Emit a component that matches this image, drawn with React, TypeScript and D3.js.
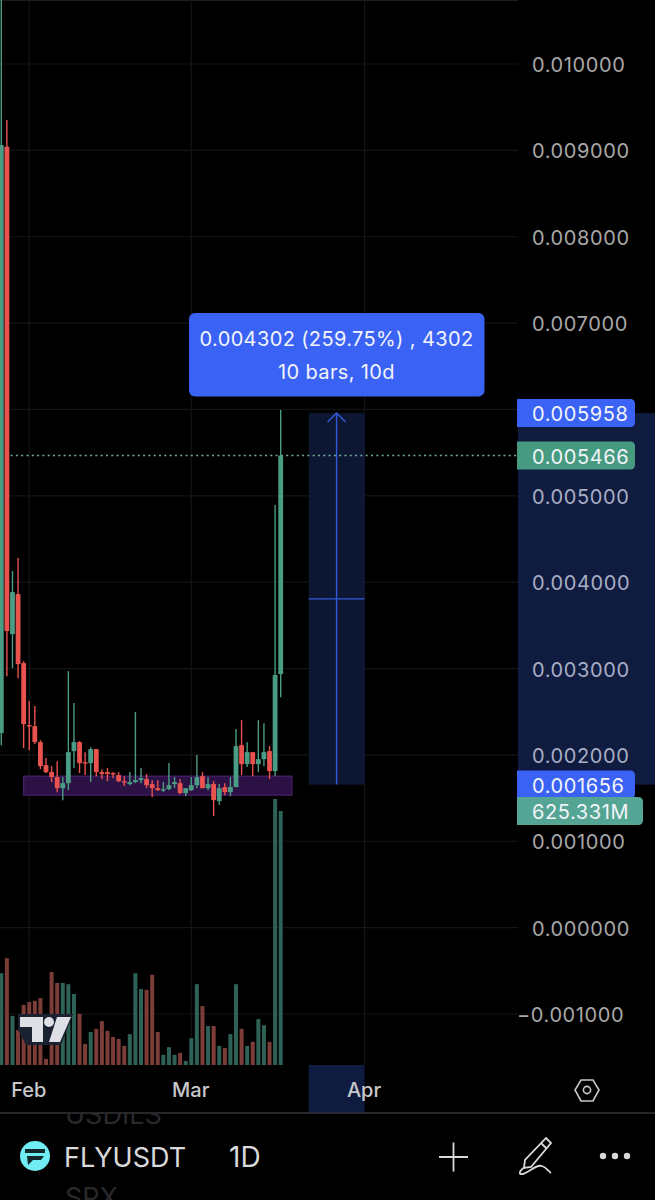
import React from 'react';
import * as d3 from 'd3';

// prices are in millionths of USDT
const MICRO = 1e-6;
const candleOpen = [2252, 9042, 3399, 3862, 3063, 2345, 2333, 2148, 1882, 1801, 1743, 1615, 1673, 2044, 2148, 1916, 1905, 2067, 1801, 1801, 1789, 1766, 1696, 1662, 1685, 1708, 1720, 1662, 1615, 1592, 1604, 1662, 1673, 1558, 1592, 1650, 1754, 1615, 1662, 1465, 1627, 1569, 1627, 2113, 1893, 2032, 1893, 1951, 2044, 1812, 2936];
const candleHigh = [11200, 9351, 4128, 4279, 3086, 2623, 2565, 2171, 1963, 1870, 1928, 1743, 2970, 2600, 2160, 2032, 2090, 2067, 1835, 1847, 1801, 1801, 1754, 1801, 2496, 1847, 1778, 1708, 1708, 1685, 1905, 1743, 1720, 1615, 1743, 1998, 1801, 1743, 1696, 1662, 1673, 1743, 2299, 2403, 2148, 2032, 2403, 2368, 2102, 4893, 5993];
const candleLow = [2113, 2912, 3005, 2889, 2079, 2055, 2125, 1835, 1789, 1685, 1569, 1476, 1592, 1847, 1789, 1766, 1685, 1754, 1720, 1696, 1731, 1685, 1639, 1650, 1673, 1673, 1615, 1511, 1581, 1569, 1592, 1615, 1546, 1523, 1581, 1615, 1615, 1592, 1291, 1419, 1534, 1523, 1627, 1766, 1859, 1754, 1801, 1870, 1720, 1754, 2669];
const candleClose = [9061, 3434, 3885, 3051, 2356, 2333, 2148, 1870, 1801, 1743, 1615, 1673, 2032, 2148, 1905, 1905, 2067, 1801, 1778, 1778, 1778, 1696, 1685, 1685, 1708, 1731, 1650, 1615, 1592, 1604, 1650, 1685, 1558, 1615, 1650, 1743, 1615, 1662, 1476, 1615, 1569, 1627, 2102, 1893, 2032, 1893, 1951, 2032, 1812, 2924, 5466];
// volume in millions
const volumes = [226, 263, 121, 86, 148, 155, 158, 165, 15, 229, 202, 202, 199, 175, 126, 52, 81, 89, 108, 84, 69, 64, 47, 76, 226, 187, 185, 222, 81, 25, 44, 25, 30, 10, 66, 199, 145, 96, 96, 47, 42, 76, 199, 89, 47, 57, 113, 98, 57, 655, 625.331];

const priceTicks = [0.01, 0.009, 0.008, 0.007, 0.006, 0.005, 0.004, 0.003, 0.002, 0.001, 0, -0.001];
const hiddenTick = 0.006; // sits under the 0.005958 label
const monthTicks = [{ label: 'Feb', index: 5 }, { label: 'Mar', index: 34 }, { label: 'Apr', index: 65 }];

const lastPrice = 0.005466;
const measureLow = 0.001656;
const measureHigh = 0.005958;
const measureFrom = 55;
const measureTo = 65;
const zoneLow = 0.001534;
const zoneHigh = 0.001754;
const zoneFrom = 4;
const zoneTo = 52;

const UP = '#4a9c84';
const DOWN = '#e8524f';
const UP_VOL = '#2f6257';
const DOWN_VOL = '#7c3c37';
const BLUE = '#3a63f5';
const GRID = '#141517';
const FONT = 'Inter, "Noto Sans", sans-serif';

const WIDTH = 655;
const HEIGHT = 1200;
const AXIS_X = 518;
const CHART_BOTTOM = 1065;
const FOOT_LINE = 1113;
const LABEL_SPACING = 0.6;

const x = d3.scaleLinear().domain([0, 50]).range([1.3, 280.7]);
const y = d3.scaleLinear().domain([0.01, -0.001]).range([64, 1014]);
const volY = d3.scaleLinear().domain([0, 625.331]).range([CHART_BOTTOM, 811]);

const tickFormat = (v: number) => (v < 0 ? '\u2212' : '') + Math.abs(v).toFixed(6);

// label with square left side and rounded right side
function PriceLabel({ cy, right, h = 28, fill, text }: { cy: number; right: number; h?: number; fill: string; text: string }) {
  const r = 5;
  const left = 517;
  const d = `M${left},${cy - h / 2}H${right - r}Q${right},${cy - h / 2} ${right},${cy - h / 2 + r}V${cy + h / 2 - r}Q${right},${cy + h / 2} ${right - r},${cy + h / 2}H${left}Z`;
  return (
    <g>
      <path d={d} fill={fill} />
      <text x={532} y={cy + 8} fontSize={20} letterSpacing={LABEL_SPACING} fill="#f2f4fa">{text}</text>
    </g>
  );
}

export default function App() {
  const measureTop = y(measureHigh);
  const measureBottom = y(measureLow);
  const mx0 = x(measureFrom);
  const mx1 = x(measureTo);
  const mMid = (mx0 + mx1) / 2;
  const mY = (measureTop + measureBottom) / 2;
  const isUp = (i: number) => candleClose[i] >= candleOpen[i];

  return (
    <svg width={WIDTH} height={HEIGHT} viewBox={`0 0 ${WIDTH} ${HEIGHT}`}
      style={{ position: 'fixed', left: 0, top: 0, display: 'block', background: '#000' }} fontFamily={FONT}>
      <rect width={WIDTH} height={HEIGHT} fill="#000" />

      {/* grid */}
      <line x1={0} x2={AXIS_X} y1={0.5} y2={0.5} stroke="#1c1e20" />
      {priceTicks.map(t => (
        <line key={t} x1={0} x2={AXIS_X} y1={y(t)} y2={y(t)} stroke={GRID} strokeWidth={1.2} />
      ))}
      {monthTicks.map(m => (
        <line key={m.label} x1={x(m.index)} x2={x(m.index)} y1={0} y2={CHART_BOTTOM} stroke={GRID} strokeWidth={1.2} />
      ))}

      {/* measure shading */}
      <rect x={mx0} width={mx1 - mx0} y={measureTop} height={measureBottom - measureTop} fill="#0d1733" />
      <rect x={AXIS_X} width={WIDTH - AXIS_X} y={measureTop} height={measureBottom - measureTop} fill="#101b40" />
      <rect x={mx0} width={mx1 - mx0} y={CHART_BOTTOM} height={FOOT_LINE - CHART_BOTTOM} fill="#101b40" />

      {/* support zone */}
      <rect x={x(zoneFrom)} width={x(zoneTo) - x(zoneFrom)} y={y(zoneHigh)} height={y(zoneLow) - y(zoneHigh)}
        fill="#2c1144" stroke="#4b1f6b" strokeWidth={1.2} />

      {/* volume */}
      {volumes.map((v, i) => (
        <rect key={i} x={x(i) - 2} width={4} y={volY(v)} height={CHART_BOTTOM - volY(v)} fill={isUp(i) ? UP_VOL : DOWN_VOL} />
      ))}

      {/* last price line */}
      <line x1={0} x2={AXIS_X} y1={y(lastPrice)} y2={y(lastPrice)} stroke="#6fae98" strokeWidth={1.4} strokeDasharray="2 3.3" />

      {/* candles */}
      {candleOpen.map((o, i) => {
        const c = candleClose[i];
        const color = isUp(i) ? UP : DOWN;
        const top = y(Math.max(o, c) * MICRO);
        const bot = y(Math.min(o, c) * MICRO);
        return (
          <g key={i}>
            <line x1={x(i)} x2={x(i)} y1={y(candleHigh[i] * MICRO)} y2={y(candleLow[i] * MICRO)} stroke={color} strokeWidth={1.4} />
            <rect x={x(i) - 2.4} width={4.8} y={top} height={Math.max(bot - top, 1.4)} fill={color} />
          </g>
        );
      })}

      {/* measure arrow */}
      <g stroke="#3159dc" strokeWidth={1.4} fill="none">
        <line x1={mMid} x2={mMid} y1={measureBottom} y2={measureTop} />
        <line x1={mx0} x2={mx1} y1={mY} y2={mY} />
        <path d={`M${mMid - 9},${measureTop + 9}L${mMid},${measureTop}L${mMid + 9},${measureTop + 9}`} />
      </g>

      {/* tooltip */}
      <rect x={189} y={313} width={295.5} height={83.5} rx={6} fill={BLUE} />
      <text x={336.5} y={346} fontSize={20} letterSpacing={0.37} fill="#f2f4fa" textAnchor="middle">0.004302 (259.75%) , 4302</text>
      <text x={336.5} y={379} fontSize={20} letterSpacing={0.37} fill="#f2f4fa" textAnchor="middle">10 bars, 10d</text>

      {/* price axis */}
      {priceTicks.filter(t => t !== hiddenTick).map(t => (
        <text key={t} x={t < 0 ? 517 : 532} y={y(t) + 8} fontSize={20} letterSpacing={LABEL_SPACING}
          fill={t <= measureHigh && t >= measureLow ? '#a8aec4' : '#a8a8a8'}>{tickFormat(t)}</text>
      ))}
      <PriceLabel cy={y(measureHigh)} right={635} fill={BLUE} text="0.005958" />
      <PriceLabel cy={y(lastPrice)} right={635} fill="#459a80" text="0.005466" />
      <PriceLabel cy={y(measureLow)} right={635} fill={BLUE} text="0.001656" />
      <PriceLabel cy={volY(625.331)} right={643} fill="#55a594" text="625.331M" />

      {/* tradingview mark */}
      <path d="M18,1014H73L61,1045H26L18,1030Z" fill="#1a2130" />
      <path d="M20,1017H43V1042H32V1027H20Z" fill="#dfe0e6" />
      <circle cx={49} cy={1022} r={5} fill="#dfe0e6" />
      <path d="M57,1017H71L60,1042H49Z" fill="#dfe0e6" />

      {/* time axis */}
      {monthTicks.map(m => (
        <text key={m.label} x={x(m.index) - 0.5} y={1097} fontSize={20} fontWeight={500} fill="#c8c8cc" textAnchor="middle">{m.label}</text>
      ))}
      <g stroke="#c8c8cc" strokeWidth={1.6} fill="none">
        <path d="M581,1080H593L599,1090L593,1101H581L575,1090Z" />
        <circle cx={587} cy={1090} r={3.6} />
      </g>

      {/* bottom bar */}
      <rect x={0} y={FOOT_LINE} width={WIDTH} height={HEIGHT - FOOT_LINE} fill="#000" />
      <line x1={0} x2={WIDTH} y1={FOOT_LINE} y2={FOOT_LINE} stroke="#33343a" strokeWidth={1.5} />
      <clipPath id="foot"><rect x={0} y={FOOT_LINE + 1} width={WIDTH} height={HEIGHT - FOOT_LINE} /></clipPath>
      <g clipPath="url(#foot)" fontSize={27} fill="#29292c">
        <text x={65} y={1124}>USDILS</text>
        <text x={65} y={1207}>SPX</text>
      </g>
      <circle cx={35} cy={1156} r={15} fill="#6fedf3" />
      <path d="M25,1149H45V1153H25Z M27,1156H44L41,1160H33L28,1165Z" fill="#10282c" />
      <text x={64} y={1167} fontSize={27} fill="#d9d9dc">FLYUSDT</text>
      <text x={229} y={1167} fontSize={28} fill="#d9d9dc">1D</text>
      <g stroke="#d9d9dc" fill="none" strokeWidth={1.8}>
        <path d="M439,1157H468M453.5,1142.5V1171.5" />
        <path d="M546,1138L551,1143L531,1167L524,1168L525,1160Z M541,1143L547,1149" />
        <path d="M525,1167C519,1171 518,1175 523,1174C530,1172 536,1164 542,1166C546,1167 548,1171 551,1173" />
      </g>
      <circle cx={603} cy={1156} r={3.2} fill="#d9d9dc" />
      <circle cx={615} cy={1156} r={3.2} fill="#d9d9dc" />
      <circle cx={627} cy={1156} r={3.2} fill="#d9d9dc" />
    </svg>
  );
}
